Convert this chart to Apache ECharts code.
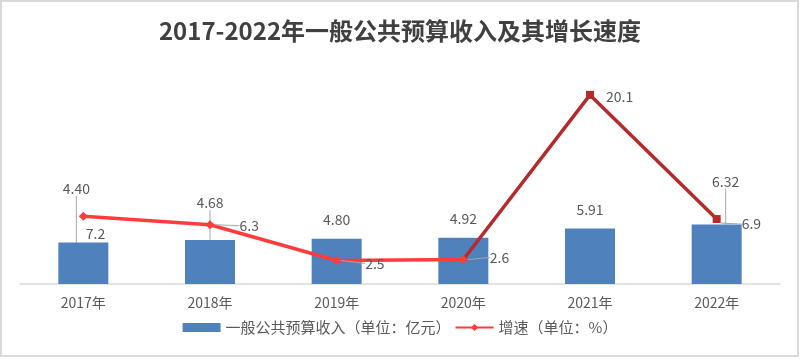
<!DOCTYPE html>
<html><head><meta charset="utf-8">
<script src="https://cdn.jsdelivr.net/npm/echarts@6/dist/echarts.min.js"></script>
<style>html,body{margin:0;padding:0;background:#fff}#c{width:800px;height:359px}</style>
</head><body><div id="c"></div>
<script>
var categories = ['2017年','2018年','2019年','2020年','2021年','2022年'];
var revenue = [4.40, 4.68, 4.80, 4.92, 5.91, 6.32];
var growth = [7.2, 6.3, 2.5, 2.6, 20.1, 6.9];
var titleText = '2017-2022年一般公共预算收入及其增长速度';
var barName = '一般公共预算收入（单位：亿元）';
var lineName = '增速（单位：%）';

var FONT = '"Noto Sans CJK SC", "Noto Sans", sans-serif';
var RED = '#FF3B3B', DARK = '#B52A2A';
var barLabelMove = {0:{dx:-7,dy:-35}, 1:{dx:0,dy:-18}, 5:{dx:9,dy:-24}};
var lineLabelMove = {0:{dx:-6,dy:17}, 1:{dx:21,dy:1}, 2:{dx:20,dy:3}, 3:{dx:18,dy:-2}, 4:{dx:8,dy:2}, 5:{dx:17,dy:5}};
var barLeader = [true, true, false, false, false, true];
var lineLeader = [false, true, true, true, false, true];
var SPLIT = 3;

function withLeader(v, show){
  return {value:v, labelLine:{show:show}};
}
var barData = revenue.map(function(v,i){return withLeader(v, barLeader[i]);});
var redData = growth.map(function(v,i){return i<=SPLIT?withLeader(v, lineLeader[i]):'-';});
var darkData = growth.map(function(v,i){return i>=SPLIT?withLeader(v, i>SPLIT && lineLeader[i]):'-';});

function lineLabel(show){
  return {show:true, position:'right', distance:4, fontFamily:FONT, fontSize:14, color:'#595959',
    formatter:function(p){return show(p.dataIndex)?String(p.value):'';}};
}
function lineLayout(p){var m=lineLabelMove[p.dataIndex]; return m?{dx:m.dx, dy:m.dy}:{};}
var leaderStyle = {show:true, lineStyle:{color:'#a6a6a6', width:1}};

var chart = echarts.init(document.getElementById('c'), null, {renderer:'canvas'});
chart.setOption({
  animation:false,
  backgroundColor:'#fff',
  title:{text:titleText, left:'center', top:14,
    textStyle:{fontFamily:FONT, fontSize:24, fontWeight:'bold', color:'#404040'}},
  grid:{left:20, right:20, top:77, bottom:75},
  legend:{bottom:19, left:'center', itemGap:4, itemWidth:38, itemHeight:9,
    textStyle:{fontFamily:FONT, fontSize:15, color:'#595959'},
    data:[{name:barName, icon:'rect'}, {name:lineName}]},
  xAxis:{type:'category', data:categories, boundaryGap:true,
    axisLine:{lineStyle:{color:'#d9d9d9', width:1.5}},
    axisTick:{show:false},
    axisLabel:{fontFamily:FONT, fontSize:14, color:'#595959', margin:12}},
  yAxis:{type:'value', min:0, max:22, show:false, splitLine:{show:false}},
  series:[
    {type:'bar', name:barName, data:barData, barWidth:50,
      itemStyle:{color:'#4F81BD'},
      label:{show:true, position:'top', distance:12, fontFamily:FONT, fontSize:14, color:'#595959',
        formatter:function(p){return Number(p.value).toFixed(2);}},
      labelLine:leaderStyle,
      labelLayout:function(p){var m=barLabelMove[p.dataIndex]; return m?{dx:m.dx, dy:m.dy}:{};}
    },
    {type:'line', name:lineName, data:redData, symbol:'diamond', symbolSize:9,
      itemStyle:{color:RED}, lineStyle:{color:RED, width:3.5}, z:5,
      label:lineLabel(function(i){return i<=SPLIT;}),
      labelLine:leaderStyle,
      labelLayout:lineLayout
    },
    {type:'line', name:lineName, data:darkData, symbol:'rect',
      symbolSize:function(v,p){return p.dataIndex>SPLIT?8:0;},
      itemStyle:{color:DARK}, lineStyle:{color:DARK, width:3.5}, z:4,
      label:lineLabel(function(i){return i>SPLIT;}),
      labelLine:leaderStyle,
      labelLayout:lineLayout
    }
  ],
  graphic:[{type:'rect', shape:{x:1, y:1, width:797, height:355}, silent:true,
    style:{fill:'none', stroke:'#d9d9d9', lineWidth:2}}]
});
</script></body></html>
